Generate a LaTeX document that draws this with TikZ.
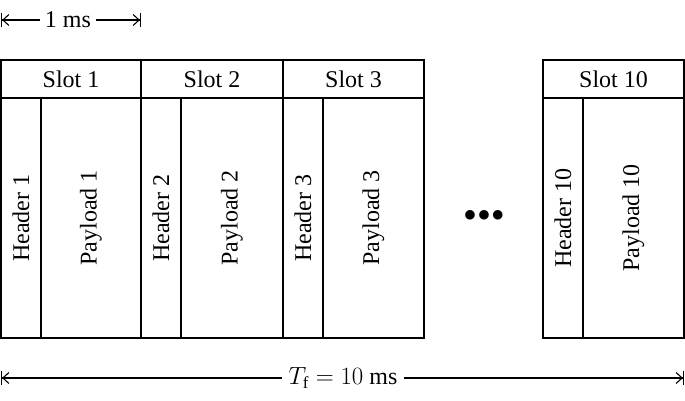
\documentclass[tikz,border=0pt]{standalone}
\usepackage{fontspec}
\setmainfont{Liberation Serif}
\usetikzlibrary{arrows.meta}
\begin{document}
\begin{tikzpicture}[x=1pt,y=-1pt,line width=1.1pt,
  every node/.style={font=\fontsize{24}{28}\selectfont},
  box/.style={draw,line width=1.1pt},
  lt/.style={{Bar[width=14pt] Straight Barb[length=6pt,width=11pt]}-},
  rt/.style={-{Straight Barb[length=6pt,width=11pt] Bar[width=14pt]}}]
\useasboundingbox (0,0) rectangle (685,401);
\foreach \x/\w/\n [count=\i] in {1/141/1,141/283/2,283/424/3,543/684/10}{
  \draw[box] (\x,60) rectangle (\w,98);
  \draw[box] (\x,98) rectangle (\w,338);
  \draw (\x+40,98) -- (\x+40,338);
  \node (s\i) at ({(\x+\w)/2},79) {Slot \n};
  \node[rotate=90] (h\i) at (\x+20,218) {Header \n};
  \node[rotate=90] (p\i) at ({(\x+40+\w)/2},218) {Payload \n};
}
\node (dots) at (484,216) {\fontsize{32}{32}\selectfont$\bullet\!\bullet\!\bullet$};
\coordinate (a1) at (1,20); \coordinate (a2) at (141,20);
\node[inner sep=4pt] (ms) at (68,20) {1 ms};
\draw[lt] (a1) -- (ms.west);
\draw[rt] (ms.east) -- (a2);
\coordinate (b1) at (1,378); \coordinate (b2) at (684,378);
\node[inner sep=6pt] (tf) at (343,378) {$T_{\mathrm{f}}=10$ ms};
\draw[lt] (b1) -- (tf.west);
\draw[rt] (tf.east) -- (b2);
\end{tikzpicture}
\end{document}
